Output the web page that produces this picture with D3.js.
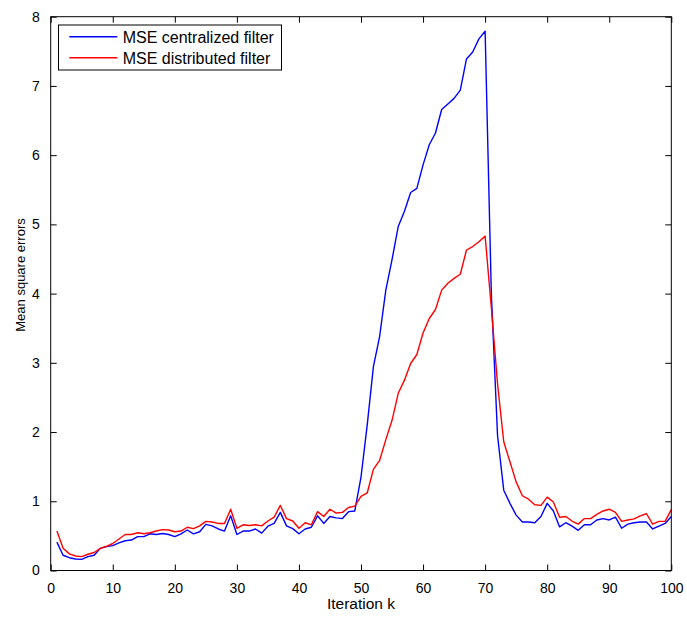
<!DOCTYPE html>
<html>
<head>
<meta charset="utf-8">
<script src="https://cdn.jsdelivr.net/npm/d3@7"></script>
<style>
  html, body { margin: 0; padding: 0; background: #fff; }
  svg { display: block; font-family: "Liberation Sans", Arial, Helvetica, sans-serif; }
</style>
</head>
<body>
<svg id="chart" width="687" height="617"></svg>
<script>
// ---- data ----
const iterations = d3.range(1, 101);
const mseCentralized = [
  0.41, 0.22, 0.185, 0.166, 0.16, 0.20, 0.22, 0.32, 0.345, 0.36,
  0.40, 0.43, 0.44, 0.49, 0.49, 0.53, 0.52, 0.535, 0.52, 0.49,
  0.53, 0.585, 0.53, 0.56, 0.667, 0.645, 0.60, 0.57, 0.79, 0.52,
  0.57, 0.57, 0.60, 0.54, 0.64, 0.68, 0.84, 0.645, 0.605, 0.53,
  0.60, 0.625, 0.79, 0.68, 0.78, 0.76, 0.75, 0.85, 0.86, 1.35,
  2.1, 2.945, 3.38, 4.05, 4.49, 4.97, 5.19, 5.46, 5.52, 5.86,
  6.15, 6.32, 6.66, 6.74, 6.82, 6.94, 7.39, 7.49, 7.68, 7.79,
  4.0, 1.95, 1.16, 0.97, 0.80, 0.70, 0.70, 0.69, 0.78, 0.97,
  0.86, 0.63, 0.69, 0.64, 0.58, 0.66, 0.66, 0.73, 0.75, 0.73,
  0.77, 0.61, 0.67, 0.69, 0.70, 0.70, 0.60, 0.64, 0.68, 0.78
];
const mseDistributed = [
  0.57, 0.32, 0.24, 0.21, 0.20, 0.235, 0.26, 0.32, 0.35, 0.39,
  0.455, 0.52, 0.52, 0.545, 0.53, 0.545, 0.57, 0.59, 0.585, 0.56,
  0.57, 0.625, 0.605, 0.645, 0.71, 0.70, 0.68, 0.68, 0.885, 0.61,
  0.66, 0.65, 0.66, 0.645, 0.715, 0.77, 0.94, 0.75, 0.715, 0.61,
  0.69, 0.66, 0.85, 0.78, 0.885, 0.83, 0.84, 0.91, 0.93, 1.07,
  1.12, 1.46, 1.59, 1.89, 2.17, 2.56, 2.75, 2.99, 3.12, 3.43,
  3.64, 3.77, 4.05, 4.15, 4.22, 4.28, 4.63, 4.68, 4.75, 4.83,
  3.8, 2.7, 1.86, 1.57, 1.28, 1.08, 1.03, 0.95, 0.94, 1.06,
  0.99, 0.77, 0.78, 0.715, 0.67, 0.75, 0.75, 0.81, 0.86, 0.885,
  0.84, 0.71, 0.73, 0.745, 0.79, 0.82, 0.67, 0.71, 0.71, 0.88
];
const xTicks = [0, 10, 20, 30, 40, 50, 60, 70, 80, 90, 100];
const yTicks = [0, 1, 2, 3, 4, 5, 6, 7, 8];
const seriesNames = ["MSE centralized filter", "MSE distributed filter"];
const seriesColors = ["#0000ff", "#ff0000"];
const xLabel = "Iteration k";
const yLabel = "Mean square errors";

// ---- layout ----
const L = 50.7, R = 671.3, T = 16.7, B = 570.5;
const svg = d3.select("#chart");
const x = d3.scaleLinear().domain([0, 100]).range([L, R]);
const y = d3.scaleLinear().domain([0, 8]).range([B, T]);

// lines
const series = [mseCentralized, mseDistributed];
const line = d3.line().x((d, i) => x(iterations[i])).y(d => y(d));
series.forEach((s, i) => {
  svg.append("path")
    .attr("d", line(s))
    .attr("fill", "none")
    .attr("stroke", seriesColors[i])
    .attr("stroke-width", 1.4)
    .attr("stroke-linejoin", "round");
});

// axes (MATLAB box style, ticks inside)
const tl = 6;
const axB = svg.append("g").attr("transform", `translate(0,${B})`)
  .call(d3.axisBottom(x).tickValues(xTicks).tickSizeInner(-tl).tickSizeOuter(0).tickPadding(13));
const axT = svg.append("g").attr("transform", `translate(0,${T})`)
  .call(d3.axisTop(x).tickValues(xTicks).tickSizeInner(-tl).tickSizeOuter(0).tickFormat(""));
const axL = svg.append("g").attr("transform", `translate(${L},0)`)
  .call(d3.axisLeft(y).tickValues(yTicks).tickSizeInner(-tl).tickSizeOuter(0).tickPadding(11));
const axR = svg.append("g").attr("transform", `translate(${R},0)`)
  .call(d3.axisRight(y).tickValues(yTicks).tickSizeInner(-tl).tickSizeOuter(0).tickFormat(""));
[axB, axT, axL, axR].forEach(g => {
  g.select(".domain").remove();
  g.selectAll("line").attr("stroke", "#000").attr("stroke-width", 1);
  g.selectAll("text").attr("fill", "#000").attr("font-size", 14)
   .attr("font-family", '"Liberation Sans", Arial, sans-serif');
});
svg.append("rect").attr("x", L).attr("y", T).attr("width", R - L).attr("height", B - T)
  .attr("fill", "none").attr("stroke", "#000").attr("stroke-width", 1);

// axis labels
svg.append("text").attr("x", (L + R) / 2).attr("y", 609)
  .attr("text-anchor", "middle").attr("font-size", 15.5).text(xLabel);
svg.append("text").attr("transform", `translate(24.5,275) rotate(-90)`)
  .attr("text-anchor", "middle").attr("font-size", 13).text(yLabel);

// legend
const lg = svg.append("g");
lg.append("rect").attr("x", 58.5).attr("y", 25).attr("width", 223).attr("height", 45)
  .attr("fill", "#fff").attr("stroke", "#000").attr("stroke-width", 1);
seriesNames.forEach((n, i) => {
  const yy = 36.7 + i * 21;
  lg.append("line").attr("x1", 69.3).attr("x2", 117.3).attr("y1", yy).attr("y2", yy)
    .attr("stroke", seriesColors[i]).attr("stroke-width", 1.4);
  lg.append("text").attr("x", 122.7).attr("y", yy + 6.6)
    .attr("font-size", 16).text(n);
});
</script>
</body>
</html>
